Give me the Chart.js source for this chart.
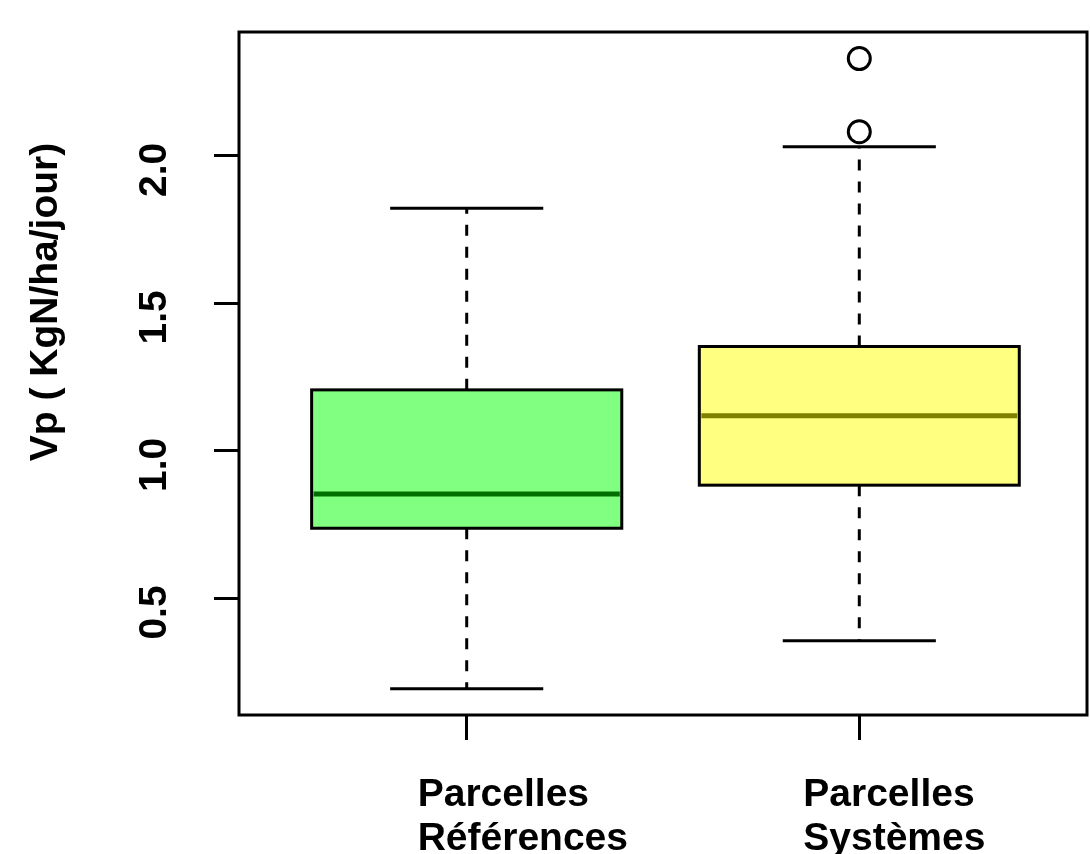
<!DOCTYPE html>
<html>
<head>
<meta charset="utf-8">
<script src="https://cdn.jsdelivr.net/npm/chart.js@4.4.1/dist/chart.umd.min.js"></script>
<style>
  html, body { margin: 0; padding: 0; background: #fff; }
  canvas { display: block; }
</style>
</head>
<body>
<canvas id="Grafica" width="1090" height="854"></canvas>
<script>
// data
const categories = [['Parcelles', 'Références'], ['Parcelles', 'Systèmes']];
const whiskerLow = [0.194, 0.357];
const q1 = [0.738, 0.884];
const median = [0.854, 1.119];
const q3 = [1.207, 1.354];
const whiskerHigh = [1.823, 2.031];
const outliers = [[], [2.082, 2.330]];
const yTicks = [0.5, 1.0, 1.5, 2.0];
const yTitle = 'Vp ( KgN/ha/jour)';

// styles
const FONT = 'bold 39px "Liberation Sans", Arial, Helvetica, sans-serif';
const boxFill = ['#80FF80', '#FFFF80'];
const medianColor = ['#006E00', '#7F7F00'];
const boxWidth = [0.79, 0.815];
const stapleWidth = 0.39;
const labelShift = [-49, -56];

const outlierPoints = [];
outliers.forEach((vals, i) => vals.forEach(v => outlierPoints.push({ x: i + 1, y: v })));

const boxPlugin = {
  id: 'boxes',
  beforeDatasetsDraw(chart) {
    const ctx = chart.ctx;
    const xs = chart.scales.x, ys = chart.scales.y;
    ctx.save();
    ctx.strokeStyle = '#000';
    ctx.lineWidth = 3;
    for (let i = 0; i < categories.length; i++) {
      const cx = xs.getPixelForValue(i + 1);
      const half = (xs.getPixelForValue(i + 1 + boxWidth[i] / 2) - xs.getPixelForValue(i + 1 - boxWidth[i] / 2)) / 2;
      const sHalf = (xs.getPixelForValue(1 + stapleWidth / 2) - xs.getPixelForValue(1 - stapleWidth / 2)) / 2;
      const yLo = ys.getPixelForValue(whiskerLow[i]);
      const yQ1 = ys.getPixelForValue(q1[i]);
      const yMed = ys.getPixelForValue(median[i]);
      const yQ3 = ys.getPixelForValue(q3[i]);
      const yHi = ys.getPixelForValue(whiskerHigh[i]);

      // whiskers
      ctx.setLineDash([11, 11]);
      ctx.beginPath();
      ctx.moveTo(cx, yQ3); ctx.lineTo(cx, yHi);
      ctx.moveTo(cx, yQ1); ctx.lineTo(cx, yLo);
      ctx.stroke();
      ctx.setLineDash([]);

      // staples
      ctx.beginPath();
      ctx.moveTo(cx - sHalf, yHi); ctx.lineTo(cx + sHalf, yHi);
      ctx.moveTo(cx - sHalf, yLo); ctx.lineTo(cx + sHalf, yLo);
      ctx.stroke();

      // box
      ctx.fillStyle = boxFill[i];
      ctx.fillRect(cx - half, yQ3, half * 2, yQ1 - yQ3);
      ctx.strokeRect(cx - half, yQ3, half * 2, yQ1 - yQ3);

      // median
      ctx.strokeStyle = medianColor[i];
      ctx.lineWidth = 5;
      ctx.beginPath();
      ctx.moveTo(cx - half + 2, yMed); ctx.lineTo(cx + half - 2, yMed);
      ctx.stroke();
      ctx.strokeStyle = '#000';
      ctx.lineWidth = 3;
    }
    ctx.restore();
  },
  afterDraw(chart) {
    const ctx = chart.ctx;
    const a = chart.chartArea;
    const xs = chart.scales.x, ys = chart.scales.y;
    ctx.save();
    // frame
    ctx.strokeStyle = '#000';
    ctx.lineWidth = 3;
    ctx.strokeRect(a.left, a.top, a.right - a.left, a.bottom - a.top);

    ctx.fillStyle = '#000';
    ctx.font = FONT;

    // y tick labels, rotated
    ctx.textAlign = 'center';
    ctx.textBaseline = 'alphabetic';
    yTicks.forEach(v => {
      ctx.save();
      ctx.translate(166, ys.getPixelForValue(v) + 14);
      ctx.rotate(-Math.PI / 2);
      ctx.fillText(v.toFixed(1), 0, 0);
      ctx.restore();
    });

    // y title
    ctx.save();
    ctx.translate(57, 302);
    ctx.rotate(-Math.PI / 2);
    ctx.fillText(yTitle, 0, 0);
    ctx.restore();

    // x labels
    ctx.textAlign = 'left';
    categories.forEach((lines, i) => {
      const x = xs.getPixelForValue(i + 1) + labelShift[i];
      lines.forEach((t, j) => ctx.fillText(t, x, a.bottom + 91 + j * 44));
    });
    ctx.restore();
  }
};

const config = {
  type: 'scatter',
  data: {
    datasets: [{
      label: 'outliers',
      data: outlierPoints,
      pointRadius: 11,
      pointHoverRadius: 11,
      pointBorderWidth: 3,
      pointBackgroundColor: '#fff',
      pointBorderColor: '#000'
    }]
  },
  options: {
    responsive: false,
    animation: false,
    layout: { autoPadding: false, padding: { top: 32, right: 3, left: 0, bottom: 0 } },
    plugins: {
      legend: { display: false },
      tooltip: { enabled: false }
    },
    scales: {
      x: {
        type: 'linear',
        min: 0.42,
        max: 2.58,
        afterBuildTicks: s => { s.ticks = categories.map((c, i) => ({ value: i + 1 })); },
        afterFit: s => { s.height = 139; },
        ticks: { display: false },
        border: { display: false },
        grid: { drawOnChartArea: false, drawTicks: true, tickLength: 25, color: '#000', lineWidth: 3 }
      },
      y: {
        type: 'linear',
        min: 0.105,
        max: 2.42,
        afterBuildTicks: s => { s.ticks = yTicks.map(v => ({ value: v })); },
        afterFit: s => { s.width = 239; },
        ticks: { display: false },
        border: { display: false },
        grid: { drawOnChartArea: false, drawTicks: true, tickLength: 25, color: '#000', lineWidth: 3 }
      }
    }
  },
  plugins: [boxPlugin]
};

const chart = new Chart(document.getElementById('Grafica'), config);
</script>
</body>
</html>
